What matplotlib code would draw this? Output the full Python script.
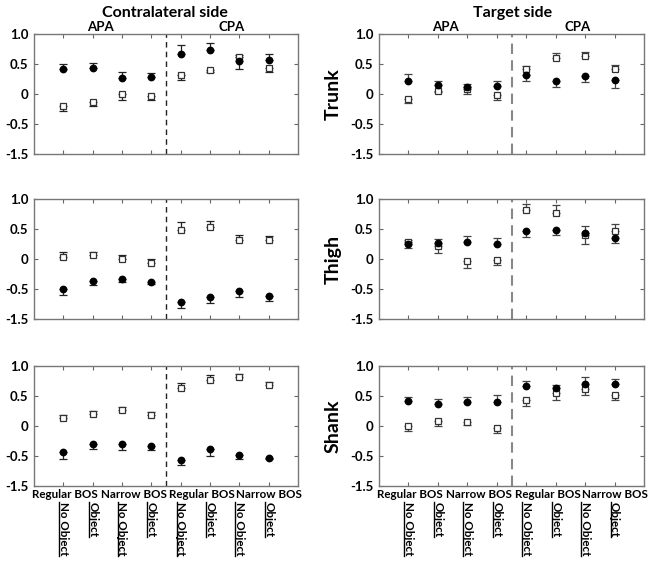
import numpy as np
import matplotlib
matplotlib.use("Agg")
from matplotlib import pyplot as plt
from matplotlib.lines import Line2D

plt.rcParams['font.family'] = ['Lato', 'DejaVu Sans']
plt.rcParams['font.weight'] = 'bold'

# data: 8 conditions (APA 1-4, CPA 5-8)
# signed error: + means bar drawn upward, - means downward
x = np.arange(1, 9)

contra_trunk_circ = [0.41, 0.43, 0.27, 0.285, 0.665, 0.73, 0.55, 0.565]
contra_trunk_circ_err = [0.09, 0.095, 0.10, 0.07, 0.15, 0.12, -0.14, 0.11]
contra_trunk_sq = [-0.195, -0.13, -0.005, -0.035, 0.31, 0.40, 0.62, 0.43]
contra_trunk_sq_err = [-0.08, -0.07, -0.09, -0.07, -0.08, -0.03, 0.03, -0.06]

target_trunk_circ = [0.22, 0.155, 0.11, 0.13, 0.31, 0.22, 0.30, 0.235]
target_trunk_circ_err = [0.11, 0.06, 0.06, 0.08, -0.10, -0.11, -0.10, -0.14]
target_trunk_sq = [-0.085, 0.05, 0.08, -0.02, 0.41, 0.60, 0.63, 0.41]
target_trunk_sq_err = [-0.07, -0.02, -0.08, -0.08, 0.05, 0.08, 0.07, 0.07]

contra_thigh_circ = [-0.495, -0.36, -0.325, -0.39, -0.71, -0.63, -0.535, -0.61]
contra_thigh_circ_err = [-0.10, -0.07, -0.06, -0.02, -0.10, -0.10, -0.095, -0.09]
contra_thigh_sq = [0.035, 0.07, -0.005, -0.06, 0.48, 0.53, 0.31, 0.32]
contra_thigh_sq_err = [0.08, 0.055, 0.08, 0.055, 0.13, 0.10, 0.085, 0.07]

target_thigh_circ = [0.25, 0.26, 0.28, 0.255, 0.46, 0.49, 0.43, 0.345]
target_thigh_circ_err = [-0.07, 0.08, 0.10, 0.09, -0.09, -0.095, 0.12, -0.08]
target_thigh_sq = [0.29, 0.21, -0.035, -0.02, 0.815, 0.775, 0.395, 0.46]
target_thigh_sq_err = [0.03, -0.11, -0.11, -0.08, 0.11, 0.12, -0.15, 0.12]

contra_shank_circ = [-0.43, -0.295, -0.295, -0.325, -0.56, -0.385, -0.485, -0.525]
contra_shank_circ_err = [-0.12, -0.09, -0.10, -0.07, -0.095, -0.12, -0.065, -0.02]
contra_shank_sq = [0.135, 0.20, 0.27, 0.185, 0.64, 0.76, 0.81, 0.69]
contra_shank_sq_err = [0.055, 0.045, 0.04, 0.05, 0.08, 0.09, 0.055, 0.05]

target_shank_circ = [0.41, 0.36, 0.40, 0.40, 0.675, 0.63, 0.70, 0.70]
target_shank_circ_err = [0.08, 0.095, 0.08, 0.11, 0.08, 0.055, 0.11, 0.09]
target_shank_sq = [-0.005, 0.09, 0.07, -0.03, 0.44, 0.55, 0.61, 0.51]
target_shank_sq_err = [-0.085, -0.09, -0.055, -0.08, -0.105, -0.11, -0.095, -0.08]

ytick_vals = [1.0, 0.5, 0, -0.5, -1.0]
ytick_labels = ['1.0', '0.5', '0', '-0.5', '-1.5']
row_names = ['Trunk', 'Thigh', 'Shank']
bos_labels = ['Regular BOS', 'Narrow BOS', 'Regular BOS', 'Narrow BOS']
obj_labels = ['No Object', 'Object'] * 4

panels = [
    [(contra_trunk_circ, contra_trunk_circ_err, contra_trunk_sq, contra_trunk_sq_err),
     (target_trunk_circ, target_trunk_circ_err, target_trunk_sq, target_trunk_sq_err)],
    [(contra_thigh_circ, contra_thigh_circ_err, contra_thigh_sq, contra_thigh_sq_err),
     (target_thigh_circ, target_thigh_circ_err, target_thigh_sq, target_thigh_sq_err)],
    [(contra_shank_circ, contra_shank_circ_err, contra_shank_sq, contra_shank_sq_err),
     (target_shank_circ, target_shank_circ_err, target_shank_sq, target_shank_sq_err)],
]

W, H = 654, 562
fig = plt.figure(figsize=(W / 100, H / 100), dpi=100)

col_left = [34, 379]
col_width = [264, 265]
row_top = [34, 199, 366]
row_height = 120


def one_sided(err):
    err = np.asarray(err)
    up = np.where(err > 0, err, 0)
    down = np.where(err < 0, -err, 0)
    return [down, up]


underlined = []

for r in range(3):
    for c in range(2):
        ax = fig.add_axes([col_left[c] / W, 1 - (row_top[r] + row_height) / H,
                           col_width[c] / W, row_height / H])
        circ, circ_err, sq, sq_err = panels[r][c]
        bar_col = '#222222' if c == 0 else '#444444'
        ax.errorbar(x, circ, yerr=one_sided(circ_err), fmt='none', ecolor=bar_col,
                    elinewidth=0.9, capsize=2.8, capthick=0.9, zorder=2)
        ax.errorbar(x, sq, yerr=one_sided(sq_err), fmt='none', ecolor=bar_col,
                    elinewidth=0.9, capsize=2.8, capthick=0.9, zorder=2)
        ax.plot(x, sq, 's', ms=4.8, mfc='white', mec='#333333', mew=0.9, zorder=3)
        ax.plot(x, circ, 'o', ms=4.6, color='black', zorder=4)

        if c == 0:
            ax.axvline(4.5, color='#222222', lw=1, dashes=(4, 3), zorder=1)
        else:
            ax.axvline(4.5, color='#888888', lw=1.5, dashes=(5, 3), zorder=1)

        ax.set_xlim(0, 9)
        ax.set_ylim(-1, 1)
        ax.set_xticks(x)
        ax.set_xticklabels([])
        ax.set_yticks(ytick_vals)
        ax.set_yticklabels(ytick_labels, fontsize=9.5, fontweight='bold')
        ax.tick_params(direction='in', length=3, color='#666666', top=True, right=True,
                       pad=4)
        for s in ax.spines.values():
            s.set_color('#777777')
            s.set_linewidth(1)

        if r == 0:
            ax.text(2.25, 1.01, 'APA', transform=ax.get_xaxis_transform(),
                    ha='center', va='bottom', fontsize=9.5, fontweight='bold')
            ax.text(6.75, 1.01, 'CPA', transform=ax.get_xaxis_transform(),
                    ha='center', va='bottom', fontsize=9.5, fontweight='bold')
        if r == 2:
            for xp, lab in zip([1.05, 3.4, 5.72, 8.0], bos_labels):
                ax.text(xp, -0.025, lab, transform=ax.get_xaxis_transform(),
                        ha='center', va='top', fontsize=8.4, fontweight='bold')
            for xp, lab in zip(x, obj_labels):
                t = ax.text(xp, -0.135, lab, transform=ax.get_xaxis_transform(),
                            rotation=270, ha='center', va='top', fontsize=8.4,
                            fontweight='bold')
                underlined.append(t)
        if c == 1:
            fig.text(333 / W, 1 - (row_top[r] + row_height / 2) / H, row_names[r],
                     rotation=90, ha='center', va='center', fontsize=14, fontweight='bold')

fig.text(165 / W, 1 - 13 / H, 'Contralateral side', ha='center', va='center',
         fontsize=11.5, fontweight='bold')
fig.text(513 / W, 1 - 13 / H, 'Target side', ha='center', va='center',
         fontsize=11.5, fontweight='bold')

# underline the rotated labels (line sits on the left side of rotated text)
fig.canvas.draw()
renderer = fig.canvas.get_renderer()
for t in underlined:
    bb = t.get_window_extent(renderer)
    xl = (bb.x0 + 1.5) / W
    fig.add_artist(Line2D([xl, xl], [bb.y0 / H, bb.y1 / H], color='black', lw=1,
                          transform=fig.transFigure))

plt.savefig('out.png', dpi=100)
